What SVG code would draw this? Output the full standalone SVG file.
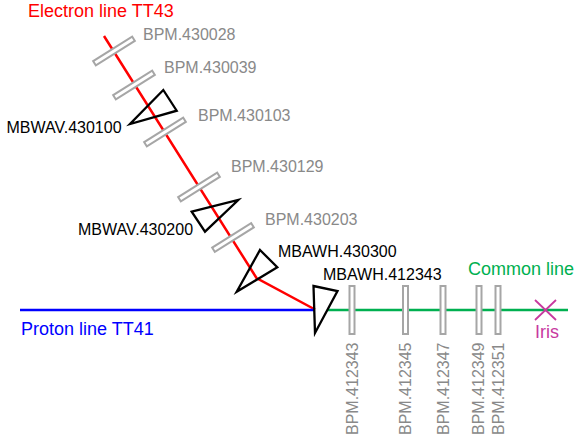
<svg xmlns="http://www.w3.org/2000/svg" width="576" height="445" viewBox="0 0 576 445">
<style>
text{font-family:"Liberation Sans",Arial,sans-serif;font-size:16px}
.bpm{fill:#898989}
.mag{fill:#000}
.bar{fill:#fff;stroke:#a6a6a6;stroke-width:2}
.tri{fill:none;stroke:#000;stroke-width:2.3;stroke-linejoin:miter}
.title{font-size:18px}
</style>
<rect width="576" height="445" fill="#fff"/>
<g id="connectors" fill="none">
<path d="M104,36 L256.5,278 L315,309.5" stroke="#ff0000" stroke-width="2.5"/>
<line x1="20" y1="310" x2="315" y2="310" stroke="#0000ff" stroke-width="2.7"/>
<line x1="327" y1="310" x2="568" y2="310" stroke="#00b050" stroke-width="2.7"/>
</g>
<g id="electron-label"><text class="title" x="28" y="16.5" fill="#ff0000">Electron line TT43</text></g>
<g id="proton-label"><text class="title" x="21" y="335" fill="#0000ff">Proton line TT41</text></g>
<g id="common-label"><text class="title" x="468" y="275" fill="#00b050">Common line</text></g>
<g id="BPM430028"><rect class="bar" x="-23" y="-2.5" width="46" height="5" transform="translate(114,51) rotate(-32)"/><text class="bpm" x="143" y="40">BPM.430028</text></g>
<g id="BPM430039"><rect class="bar" x="-23" y="-2.5" width="46" height="5" transform="translate(134,85) rotate(-32)"/><text class="bpm" x="164" y="73">BPM.430039</text></g>
<g id="MBWAV430100"><polygon class="tri" points="163.3,90 176.7,110.7 130,124"/><text class="mag" x="6.5" y="133">MBWAV.430100</text></g>
<g id="BPM430103"><rect class="bar" x="-23" y="-2.5" width="46" height="5" transform="translate(165,132) rotate(-32)"/><text class="bpm" x="198" y="121">BPM.430103</text></g>
<g id="BPM430129"><rect class="bar" x="-23" y="-2.5" width="46" height="5" transform="translate(199,187) rotate(-32)"/><text class="bpm" x="231" y="172">BPM.430129</text></g>
<g id="MBWAV430200"><polygon class="tri" points="191.7,211.7 238.3,200 205,231.7"/><text class="mag" x="78" y="235">MBWAV.430200</text></g>
<g id="BPM430203"><rect class="bar" x="-23" y="-2.5" width="46" height="5" transform="translate(233,237.5) rotate(-32)"/><text class="bpm" x="265" y="225">BPM.430203</text></g>
<g id="MBAWH430300"><polygon class="tri" points="260,250 277.3,267.3 236.7,291.7"/><text class="mag" x="278" y="256.5">MBAWH.430300</text></g>
<g id="MBAWH412343"><polygon class="tri" points="313.5,286 337.5,291 315,333"/><text class="mag" x="323" y="280">MBAWH.412343</text></g>
<g id="BPM412343"><rect class="bar" x="349.5" y="286" width="5" height="48"/><text class="bpm" transform="translate(357.5,435) rotate(-90)">BPM.412343</text></g>
<g id="BPM412345"><rect class="bar" x="403" y="286" width="5" height="48"/><text class="bpm" transform="translate(411,435) rotate(-90)">BPM.412345</text></g>
<g id="BPM412347"><rect class="bar" x="440.5" y="286" width="5" height="48"/><text class="bpm" transform="translate(448.5,435) rotate(-90)">BPM.412347</text></g>
<g id="BPM412349"><rect class="bar" x="476.5" y="286" width="5" height="48"/><text class="bpm" transform="translate(484,435) rotate(-90)">BPM.412349</text></g>
<g id="BPM412351"><rect class="bar" x="495.5" y="286" width="5" height="48"/><text class="bpm" transform="translate(503.5,435) rotate(-90)">BPM.412351</text></g>
<g id="Iris"><path d="M535,300 L556,320 M556,300 L535,320" stroke="#c8399f" stroke-width="1.8" fill="none"/><text class="title" x="535" y="338" fill="#c8399f">Iris</text></g>
</svg>
